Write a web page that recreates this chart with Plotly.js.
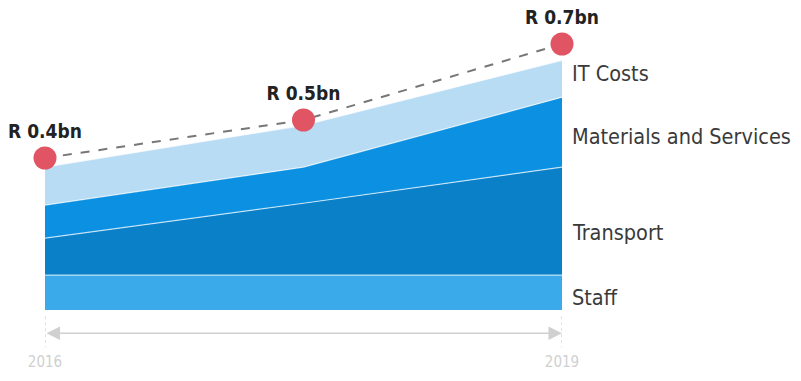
<!DOCTYPE html>
<html>
<head>
<meta charset="utf-8">
<script src="https://cdn.plot.ly/plotly-3.0.1.min.js"></script>
<style>html,body{margin:0;padding:0;background:#fff;}#chart{width:801px;height:381px;}</style>
</head>
<body>
<div id="chart"></div>
<script>
// Data (R bn)
const years = [2016, 2017.5, 2019];
const staff = [0.092, 0.092, 0.092];
const transport = [0.097, 0.189, 0.284];
const materials = [0.087, 0.095, 0.184];
const itCosts = [0.100, 0.110, 0.097];
const totals = [0.4, 0.5, 0.7];
const totalLabels = ['<b>R 0.4bn</b>', '<b>R 0.5bn</b>', '<b>R 0.7bn</b>'];
const seriesNames = ['Staff', 'Transport', 'Materials and Services', 'IT Costs'];
const tickYears = [2016, 2019];
const tickText = ['2016', '2019'];

const FONT = 'Liberation Sans Narrow, DejaVu Sans Condensed, Open Sans, sans-serif';
const colors = ['#3aaaea', '#0a80c8', '#0b90e2', '#b8dcf4'];
const series = [staff, transport, materials, itCosts];

const traces = series.map((s, i) => ({
  x: years, y: s, name: seriesNames[i], type: 'scatter', mode: 'lines',
  stackgroup: 'one', fillcolor: colors[i],
  line: {color: 'rgba(255,255,255,0.7)', width: 1.2},
  hoverinfo: 'skip'
}));

traces.push({
  x: years, y: totals, type: 'scatter', mode: 'lines+markers+text',
  text: totalLabels, textposition: 'top center',
  textfont: {family: FONT, size: 19, color: '#222'},
  line: {color: '#777', width: 2, dash: 'dash'},
  marker: {color: '#e05464', size: 23},
  cliponaxis: false, hoverinfo: 'skip'
});

// right-side labels at band midpoints of last year
const last = series.map(s => s[s.length - 1]);
let cum = 0;
const annotations = [];
last.forEach((v, i) => {
  const mid = cum + v / 2;
  cum += v;
  annotations.push({
    x: years[years.length - 1], y: mid, xref: 'x', yref: 'y',
    text: seriesNames[i], showarrow: false, xanchor: 'left', xshift: 8,
    yshift: [-5, -11, -4, 5][i],
    font: {family: FONT, size: 21.5, color: '#3a3a3a'}
  });
});
// axis arrow (both ends)
const axY = -0.075;
annotations.push({x: 2019, y: axY, xref: 'x', yref: 'paper', ax: 2016, ay: axY, axref: 'x', ayref: 'paper',
  text: '', showarrow: true, arrowside: 'end+start', arrowhead: 2, startarrowhead: 2,
  arrowsize: 1.8, startarrowsize: 1.8, arrowwidth: 1.5, arrowcolor: '#d0d0d0'});

const shapes = tickYears.map(x => ({
  type: 'line', xref: 'x', yref: 'paper', x0: x, x1: x, y0: -0.02, y1: -0.12,
  line: {color: '#b8c4d4', width: 1, dash: 'dot'}
}));

const layout = {
  width: 801, height: 381,
  margin: {l: 45, r: 239, t: 0, b: 71},
  paper_bgcolor: '#fff', plot_bgcolor: '#fff',
  showlegend: false,
  xaxis: {range: [2016, 2019], tickvals: tickYears, ticktext: tickText,
    showgrid: false, zeroline: false, showline: false,
    ticks: 'outside', ticklen: 38, tickcolor: 'rgba(0,0,0,0)',
    tickfont: {family: FONT, size: 15, color: '#d0d0d0'}},
  yaxis: {range: [0, 310/380], visible: false, fixedrange: true},
  annotations: annotations, shapes: shapes
};

Plotly.newPlot('chart', traces, layout, {displayModeBar: false, staticPlot: true});
</script>
</body>
</html>
